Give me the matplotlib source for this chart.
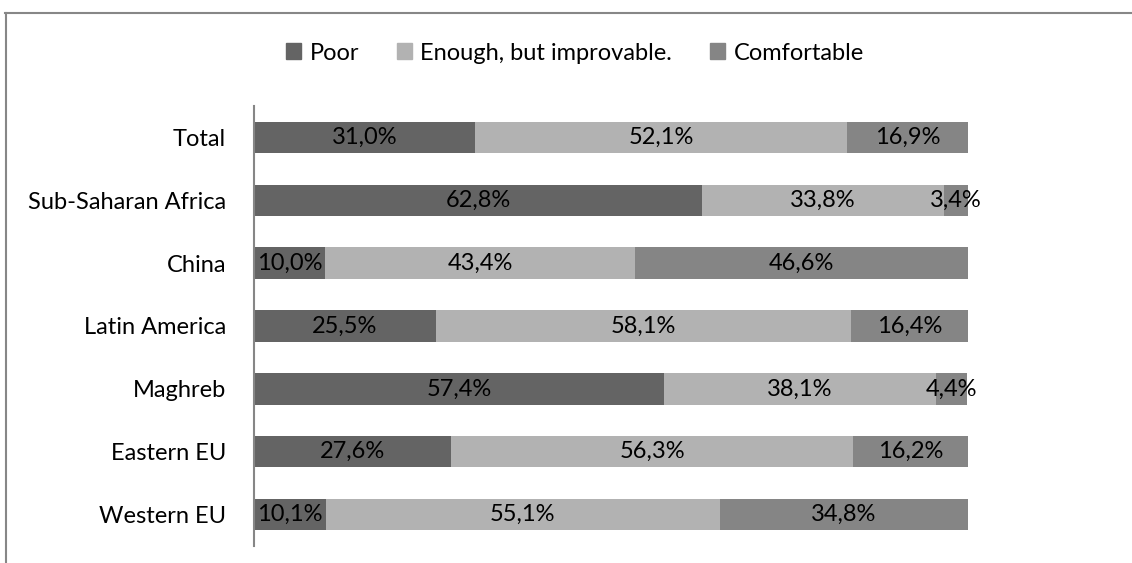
import matplotlib
matplotlib.use('Agg')
import matplotlib.pyplot as plt
from matplotlib.lines import Line2D
from matplotlib.patches import Patch
import numpy as np

# data (percent)
regions = ['Total', 'Sub-Saharan Africa', 'China', 'Latin America',
           'Maghreb', 'Eastern EU', 'Western EU']
poor = [31.0, 62.8, 10.0, 25.5, 57.4, 27.6, 10.1]
enough = [52.1, 33.8, 43.4, 58.1, 38.1, 56.3, 55.1]
comfortable = [16.9, 3.4, 46.6, 16.4, 4.4, 16.2, 34.8]
series_names = ['Poor', 'Enough, but improvable.', 'Comfortable']
colors = ['#646464', '#b2b2b2', '#858585']

plt.rcParams['font.family'] = ['Lato', 'DejaVu Sans']
FS = 17

W, H = 1132, 563
fig = plt.figure(figsize=(W / 100, H / 100), dpi=100)
ax = fig.add_axes([254 / W, 1 - 546 / H, (968 - 254) / W, (546 - 106) / H])

y = np.arange(len(regions))
left = np.zeros(len(regions))
for vals, col, name in zip([poor, enough, comfortable], colors, series_names):
    bars = ax.barh(y, vals, height=0.5, left=left, color=col, label=name)
    for b, v in zip(bars, vals):
        cx = b.get_x() + b.get_width() / 2
        ax.text(cx, b.get_y() + b.get_height() / 2, f'{v:.1f}'.replace('.', ',') + '%',
                ha='center', va='center', fontsize=FS, color='#000000')
    left = left + np.array(vals)

ax.set_xlim(0, 100)
ax.set_ylim(len(regions) - 0.5, -0.5)
ax.set_yticks(y)
ax.set_yticklabels(regions, fontsize=FS)
ax.tick_params(axis='y', length=0, pad=20)
ax.set_xticks([])
for s in ['top', 'right', 'bottom']:
    ax.spines[s].set_visible(False)
ax.spines['left'].set_color('#868686')
ax.spines['left'].set_linewidth(1.5)

handles = [Patch(color=c) for c in colors]
fig.legend(handles, series_names, loc='center', bbox_to_anchor=(575 / W, 1 - 53 / H),
           ncol=3, frameon=False, fontsize=FS, handlelength=0.65, handleheight=0.65,
           handletextpad=0.35, columnspacing=1.6)

# chart area border (only top and left visible)
fig.add_artist(Line2D([5 / W, 1], [1 - 12.5 / H, 1 - 12.5 / H], color='#878787', lw=1.5,
                      transform=fig.transFigure))
fig.add_artist(Line2D([5.5 / W, 5.5 / W], [0, 1 - 12.5 / H], color='#878787', lw=1.5,
                      transform=fig.transFigure))

fig.savefig('out.png', dpi=100)
